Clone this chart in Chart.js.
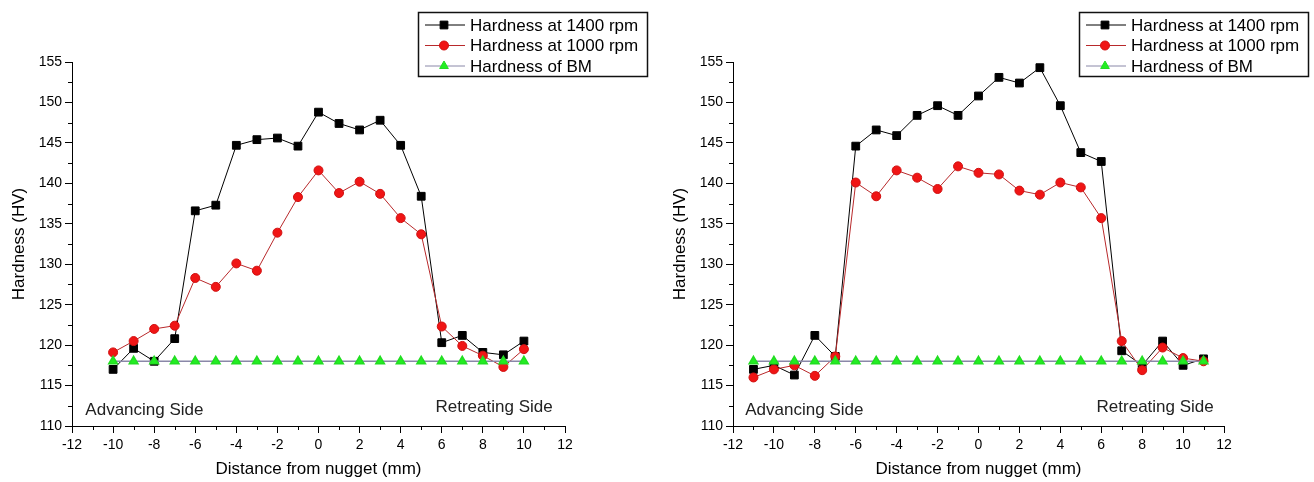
<!DOCTYPE html>
<html>
<head>
<meta charset="utf-8">
<script src="https://cdn.jsdelivr.net/npm/chart.js@4.4.1/dist/chart.umd.min.js"></script>
<style>
  html, body { margin: 0; padding: 0; background: #fff; }
  #wrap { position: relative; width: 1314px; height: 482px; overflow: hidden; }
  .panel { position: absolute; top: 0; height: 482px; }
  #left { left: 0; width: 661px; }
  #right { left: 661px; width: 653px; }
</style>
</head>
<body>
<div id="wrap">
  <div class="panel" id="left"><canvas id="chartLeft" width="661" height="482"></canvas></div>
  <div class="panel" id="right"><canvas id="chartRight" width="653" height="482"></canvas></div>
</div>
<script>
// ---- data ----
const seriesNames = ['Hardness at 1400 rpm', 'Hardness at 1000 rpm', 'Hardness of BM'];

const leftX = [-10, -9, -8, -7, -6, -5, -4, -3, -2, -1, 0, 1, 2, 3, 4, 5, 6, 7, 8, 9, 10];
const left1400 = [117.0, 119.6, 118.0, 120.8, 136.6, 137.3, 144.7, 145.4, 145.6, 144.6, 148.8,
                  147.4, 146.6, 147.8, 144.7, 138.4, 120.3, 121.2, 119.1, 118.8, 120.5];
const left1000 = [119.1, 120.5, 122.0, 122.4, 128.3, 127.2, 130.1, 129.2, 133.9, 138.3, 141.6,
                  138.8, 140.2, 138.7, 135.7, 133.7, 122.3, 119.9, 118.7, 117.3, 119.5];
const leftBM = [118, 118, 118, 118, 118, 118, 118, 118, 118, 118, 118,
                118, 118, 118, 118, 118, 118, 118, 118, 118, 118];

const rightX = [-11, -10, -9, -8, -7, -6, -5, -4, -3, -2, -1, 0, 1, 2, 3, 4, 5, 6, 7, 8, 9, 10, 11];
const right1400 = [117.0, 117.5, 116.3, 121.2, 118.6, 144.6, 146.6, 145.9, 148.4, 149.6, 148.4, 150.8,
                   153.1, 152.4, 154.3, 149.6, 143.8, 142.7, 119.3, 117.5, 120.5, 117.5, 118.3];
const right1000 = [116.0, 117.0, 117.5, 116.2, 118.6, 140.1, 138.4, 141.6, 140.7, 139.3, 142.1, 141.3,
                   141.1, 139.1, 138.6, 140.1, 139.5, 135.7, 120.5, 116.9, 119.7, 118.4, 118.0];
const rightBM = [118, 118, 118, 118, 118, 118, 118, 118, 118, 118, 118, 118,
                 118, 118, 118, 118, 118, 118, 118, 118, 118, 118, 118];

const xTickValues = [-12, -10, -8, -6, -4, -2, 0, 2, 4, 6, 8, 10, 12];
const yTickValues = [110, 115, 120, 125, 130, 135, 140, 145, 150, 155];
const sideLabels = ['Advancing Side', 'Retreating Side'];

const FONT = '"Liberation Sans", Arial, Helvetica, sans-serif';

const pts = (xs, ys) => xs.map((x, i) => ({ x: x, y: ys[i] }));

// minor ticks, side captions and the boxed legend
const extras = {
  id: 'extras',
  afterDraw(chart, args, opts) {
    const ctx = chart.ctx;
    const xs = chart.scales.x, ys = chart.scales.y;
    ctx.save();
    ctx.strokeStyle = '#000';
    ctx.lineWidth = 1;
    for (let v = xs.min + 1; v < xs.max; v += 2) {
      const px = Math.round(xs.getPixelForValue(v)) + 0.5;
      ctx.beginPath(); ctx.moveTo(px, ys.bottom); ctx.lineTo(px, ys.bottom + 4); ctx.stroke();
    }
    for (let v = ys.min + 2.5; v < ys.max; v += 5) {
      const py = Math.round(ys.getPixelForValue(v)) + 0.5;
      ctx.beginPath(); ctx.moveTo(xs.left - 4, py); ctx.lineTo(xs.left, py); ctx.stroke();
    }

    ctx.font = '17px ' + FONT;
    ctx.fillStyle = '#222';
    ctx.textBaseline = 'middle';
    ctx.textAlign = 'left';
    ctx.fillText(sideLabels[0], xs.getPixelForValue(opts.advX), ys.getPixelForValue(opts.sideY));
    ctx.textAlign = 'right';
    ctx.fillText(sideLabels[1], xs.getPixelForValue(opts.retX), ys.getPixelForValue(opts.retY));

    // legend
    const b = opts.box;
    ctx.lineWidth = 1.5;
    ctx.strokeStyle = '#111';
    ctx.strokeRect(b.x + 0.5, b.y + 0.5, b.w, b.h);
    ctx.textAlign = 'left';
    chart.data.datasets.forEach((ds, i) => {
      const cy = b.y + 13 + i * 20.5;
      ctx.strokeStyle = ds.borderColor;
      ctx.lineWidth = 1;
      ctx.beginPath(); ctx.moveTo(b.x + 7, cy); ctx.lineTo(b.x + 47, cy); ctx.stroke();
      ctx.fillStyle = ds.pointBackgroundColor;
      ctx.strokeStyle = ds.pointBorderColor;
      Chart.helpers.drawPoint(ctx, {
        pointStyle: ds.pointStyle, radius: ds.pointRadius, rotation: 0, borderWidth: 1
      }, b.x + 26, cy);
      ctx.fillStyle = '#000';
      ctx.fillText(ds.label, b.x + 52, cy + 1);
    });
    ctx.restore();
  }
};

function makeChart(id, xs, s1400, s1000, sBM, padRight, extraOpts) {
  return new Chart(document.getElementById(id), {
    type: 'line',
    data: {
      datasets: [{
        label: seriesNames[0],
        data: pts(xs, s1400),
        borderColor: '#000',
        borderWidth: 1,
        pointStyle: 'rect',
        pointRadius: 5.5,
        pointBackgroundColor: '#000',
        pointBorderColor: '#000',
        order: 3
      }, {
        label: seriesNames[1],
        data: pts(xs, s1000),
        borderColor: '#b8292b',
        borderWidth: 1,
        pointStyle: 'circle',
        pointRadius: 4.5,
        pointBackgroundColor: '#f01515',
        pointBorderColor: '#d01010',
        order: 2
      }, {
        label: seriesNames[2],
        data: pts(xs, sBM),
        borderColor: '#8a88a8',
        borderWidth: 1.5,
        pointStyle: 'triangle',
        pointRadius: 5,
        pointBackgroundColor: '#22ee22',
        pointBorderColor: '#22dd22',
        order: 1
      }]
    },
    options: {
      responsive: false,
      animation: false,
      events: [],
      layout: { padding: { top: 62, right: padRight, left: 0, bottom: 0 } },
      elements: { line: { tension: 0 } },
      plugins: {
        legend: { display: false },
        tooltip: { enabled: false },
        extras: extraOpts
      },
      scales: {
        x: {
          type: 'linear',
          min: -12, max: 12,
          afterBuildTicks: s => { s.ticks = xTickValues.map(v => ({ value: v })); },
          afterFit: s => { s.height = 56; },
          border: { display: true, color: '#000', width: 1 },
          grid: { drawOnChartArea: false, drawTicks: true, tickLength: 7, tickColor: '#000' },
          ticks: { color: '#000', padding: 4, font: { family: FONT, size: 14 } },
          title: {
            display: true, text: 'Distance from nugget (mm)', color: '#000',
            font: { family: FONT, size: 17 }, padding: { top: 0, bottom: 2 }
          }
        },
        y: {
          type: 'linear',
          min: 110, max: 155,
          afterBuildTicks: s => { s.ticks = yTickValues.map(v => ({ value: v })); },
          afterFit: s => { s.width = 72; },
          border: { display: true, color: '#000', width: 1 },
          grid: { drawOnChartArea: false, drawTicks: true, tickLength: 7, tickColor: '#000' },
          ticks: { color: '#000', padding: 3, font: { family: FONT, size: 14 } },
          title: {
            display: true, text: 'Hardness (HV)', color: '#000',
            font: { family: FONT, size: 17 }, padding: { top: 9, bottom: 0 }
          }
        }
      }
    },
    plugins: [extras]
  });
}

makeChart('chartLeft', leftX, left1400, left1000, leftBM, 96, {
  advX: -11.35, sideY: 112.0, retX: 11.4, retY: 112.35,
  box: { x: 418, y: 12, w: 229, h: 64 }
});
makeChart('chartRight', rightX, right1400, right1000, rightBM, 90, {
  advX: -11.4, sideY: 112.0, retX: 11.5, retY: 112.35,
  box: { x: 418, y: 12, w: 229, h: 64 }
});
</script>
</body>
</html>
